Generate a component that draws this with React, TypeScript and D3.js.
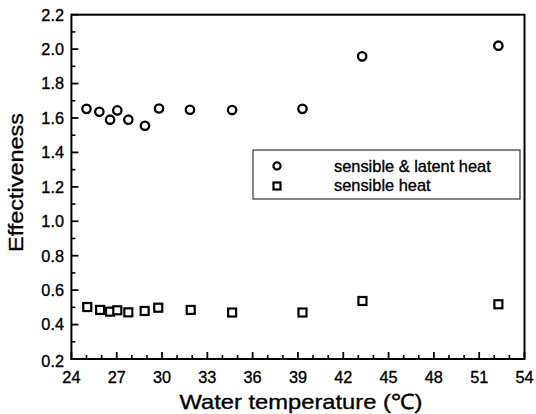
import React from "react";
import * as d3 from "d3";

const tempLatent = [25.0, 25.85, 26.56, 27.04, 27.77, 28.87, 29.8, 31.85, 34.64, 39.3, 43.25, 52.27];
const effLatent = [1.653, 1.636, 1.59, 1.644, 1.59, 1.555, 1.655, 1.648, 1.646, 1.653, 1.958, 2.02];
const tempSensible = [25.05, 25.9, 26.56, 27.04, 27.77, 28.85, 29.75, 31.9, 34.64, 39.3, 43.27, 52.27];
const effSensible = [0.502, 0.485, 0.475, 0.483, 0.471, 0.479, 0.498, 0.485, 0.47, 0.47, 0.537, 0.518];
const xTicks = [24, 27, 30, 33, 36, 39, 42, 45, 48, 51, 54];
const yTicks = [0.2, 0.4, 0.6, 0.8, 1.0, 1.2, 1.4, 1.6, 1.8, 2.0, 2.2];
const legendLabels = ["sensible & latent heat", "sensible heat"];

const FONT = "'Liberation Sans', Arial, Helvetica, sans-serif";

export default function App() {
  const x = d3.scaleLinear().domain([24, 54]).range([71.4, 524.5]);
  const y = d3.scaleLinear().domain([0.2, 2.2]).range([359, 14.7]);
  const [x0, x1] = x.range();
  const [y0, y1] = y.range();
  const xMinor = d3.range(24, 54.001, 1).filter((v) => !xTicks.includes(v));
  const yMinor = d3.range(0.3, 2.2, 0.2);
  const textStyle = { stroke: "#000", strokeWidth: 0.35 } as const;

  return (
    <svg width={536} height={414} style={{ position: "absolute", left: 0, top: 0, background: "#fff" }}>
      <rect x={0} y={0} width={536} height={414} fill="#fff" />
      {/* frame */}
      <rect x={x0} y={y1} width={x1 - x0} height={y0 - y1} fill="none" stroke="#000" strokeWidth={2} />
      {/* ticks */}
      {xTicks.map((t) => (
        <line key={"xt" + t} x1={x(t)} x2={x(t)} y1={y0} y2={y0 - 7} stroke="#000" strokeWidth={1.8} />
      ))}
      {xMinor.map((t) => (
        <line key={"xm" + t} x1={x(t)} x2={x(t)} y1={y0} y2={y0 - 4} stroke="#000" strokeWidth={1.6} />
      ))}
      {yTicks.map((t) => (
        <line key={"yt" + t} x1={x0} x2={x0 + 7} y1={y(t)} y2={y(t)} stroke="#000" strokeWidth={1.8} />
      ))}
      {yMinor.map((t) => (
        <line key={"ym" + t} x1={x0} x2={x0 + 4} y1={y(t)} y2={y(t)} stroke="#000" strokeWidth={1.6} />
      ))}
      {/* tick labels */}
      {xTicks.map((t) => (
        <text key={"xl" + t} x={x(t)} y={383} textAnchor="middle" fontFamily={FONT} fontSize={16.3} fill="#000" style={textStyle}>
          {t}
        </text>
      ))}
      {yTicks.map((t) => (
        <text key={"yl" + t} x={64} y={y(t) + (t === 0.2 ? 7.5 : 5.8)} textAnchor="end" fontFamily={FONT} fontSize={16.3} fill="#000" style={textStyle}>
          {t.toFixed(1)}
        </text>
      ))}
      {/* axis titles */}
      <text x={301} y={409} textAnchor="middle" fontFamily={FONT} fontSize={21} fill="#000" textLength={243} lengthAdjust="spacingAndGlyphs" style={textStyle}>
        Water temperature (℃)
      </text>
      <text
        transform={`translate(23, ${(113 + 252) / 2}) rotate(-90)`}
        textAnchor="middle"
        fontFamily={FONT}
        fontSize={21}
        fill="#000"
        textLength={139}
        lengthAdjust="spacingAndGlyphs"
        style={textStyle}
      >
        Effectiveness
      </text>
      {/* data */}
      {tempLatent.map((t, i) => (
        <circle key={"c" + i} cx={x(t)} cy={y(effLatent[i])} r={4.2} fill="#fff" stroke="#000" strokeWidth={2.3} />
      ))}
      {tempSensible.map((t, i) => (
        <rect key={"s" + i} x={x(t) - 4} y={y(effSensible[i]) - 4} width={8} height={8} fill="#fff" stroke="#000" strokeWidth={2.2} />
      ))}
      {/* legend */}
      <rect x={253} y={150} width={267} height={49} fill="#fff" stroke="#333" strokeWidth={1.2} />
      <circle cx={277} cy={166} r={3.6} fill="#fff" stroke="#000" strokeWidth={2.2} />
      <rect x={273.5} y={182.5} width={7} height={7} fill="#fff" stroke="#000" strokeWidth={2.2} />
      <text x={334} y={171.5} fontFamily={FONT} fontSize={16.4} fill="#000" style={textStyle}>{legendLabels[0]}</text>
      <text x={334} y={190.5} fontFamily={FONT} fontSize={16.4} fill="#000" style={textStyle}>{legendLabels[1]}</text>
    </svg>
  );
}
